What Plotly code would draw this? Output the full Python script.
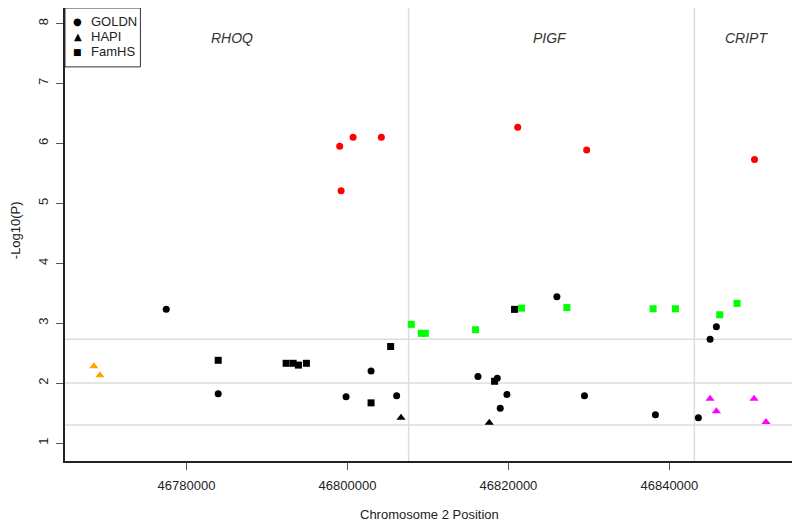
import plotly.graph_objects as go

# ---------------- data ----------------
goldn_black_x = [46777480, 46783936, 46799827, 46802931, 46806109, 46816214, 46818611,
                 46819815, 46818983, 46826023, 46829450, 46838264, 46843602, 46845055, 46845838]
goldn_black_y = [3.23, 1.82, 1.77, 2.20, 1.79, 2.11, 2.08,
                 1.81, 1.58, 3.44, 1.79, 1.47, 1.42, 2.73, 2.94]
goldn_red_x = [46799032, 46799206, 46800696, 46804209, 46821156, 46829722, 46850579]
goldn_red_y = [5.95, 5.21, 6.10, 6.10, 6.27, 5.89, 5.73]

hapi_black_x = [46806655, 46817617]
hapi_black_y = [1.42, 1.34]
hapi_orange_x = [46768491, 46769236]
hapi_orange_y = [2.28, 2.13]
hapi_magenta_x = [46845055, 46845838, 46850517, 46852007]
hapi_magenta_y = [1.74, 1.53, 1.74, 1.35]

famhs_black_x = [46783936, 46792378, 46793247, 46793905, 46794898, 46802931, 46805364,
                 46818276, 46820759]
famhs_black_y = [2.38, 2.33, 2.33, 2.30, 2.33, 1.67, 2.61, 2.03, 3.23]
famhs_green_x = [46807934, 46809175, 46809672, 46815917, 46821628, 46827265, 46837978,
                 46840746, 46846257, 46848405]
famhs_green_y = [2.98, 2.83, 2.83, 2.89, 3.25, 3.26, 3.24, 3.24, 3.14, 3.33]

gene_names = ["RHOQ", "PIGF", "CRIPT"]
gene_label_x = [46785666, 46825191, 46849525]
gene_label_y = 7.76
gene_boundaries = [46807598, 46843105]
threshold_lines = [2.73, 2.0, 1.301]

x_ticks = [46780000, 46800000, 46820000, 46840000]
y_ticks = [1, 2, 3, 4, 5, 6, 7, 8]
legend_names = ["GOLDN", "HAPI", "FamHS"]

FONT = "Liberation Sans, Arial, Helvetica, sans-serif"
TXT = "#222222"

fig = go.Figure()

def add(xs, ys, color, symbol, size):
    fig.add_trace(go.Scatter(x=xs, y=ys, mode="markers", showlegend=False,
                             marker=dict(color=color, symbol=symbol, size=size,
                                         line=dict(width=0)),
                             hoverinfo="x+y"))

add(goldn_black_x, goldn_black_y, "black", "circle", 7)
add(goldn_red_x, goldn_red_y, "#ff0000", "circle", 7)
add(hapi_black_x, hapi_black_y, "black", "triangle-up", 8)
add(hapi_orange_x, hapi_orange_y, "#ffa500", "triangle-up", 8)
add(hapi_magenta_x, hapi_magenta_y, "#ff00ff", "triangle-up", 8)
add(famhs_black_x, famhs_black_y, "black", "square", 7)
add(famhs_green_x, famhs_green_y, "#00ff00", "square", 7)

# reference lines
for yv in threshold_lines:
    fig.add_shape(type="line", xref="paper", x0=0, x1=1, yref="y", y0=yv, y1=yv,
                  line=dict(color="#dddddd", width=1.5), layer="below")
for xv in gene_boundaries:
    fig.add_shape(type="line", yref="paper", y0=0, y1=1, xref="x", x0=xv, x1=xv,
                  line=dict(color="#dddddd", width=1.5), layer="below")

# gene labels
for name, gx in zip(gene_names, gene_label_x):
    fig.add_annotation(x=gx, y=gene_label_y, text="<i>" + name + "</i>", showarrow=False,
                       font=dict(family=FONT, size=14, color="#333333"))

# legend box (manual, R-style)
fig.add_shape(type="rect", xref="paper", yref="paper", x0=0, x1=0.1036, y0=0.870, y1=1,
              line=dict(color="#333333", width=1), fillcolor="white", layer="above")
glyphs = ["●", "▲", "■"]
glyph_sizes = [10, 10, 9]
legend_rows = [0.971, 0.938, 0.9036]
for name, g, gs, ry in zip(legend_names, glyphs, glyph_sizes, legend_rows):
    fig.add_annotation(xref="paper", yref="paper", x=0.0172, y=ry, text=g, showarrow=False,
                       font=dict(family="DejaVu Sans", size=gs, color="black"),
                       xanchor="center", yanchor="middle")
    fig.add_annotation(xref="paper", yref="paper", x=0.0323, y=ry, text=name, showarrow=False,
                       font=dict(family=FONT, size=13, color=TXT),
                       xanchor="left", yanchor="middle")

# axis titles
fig.add_annotation(xref="paper", yref="paper", x=0.5, y=-0.118, text="Chromosome 2 Position",
                   showarrow=False, xanchor="center", yanchor="middle",
                   font=dict(family=FONT, size=13, color=TXT))
fig.add_annotation(xref="paper", yref="paper", x=-0.067, y=0.51, text="-Log10(P)",
                   showarrow=False, xanchor="center", yanchor="middle", textangle=-90,
                   font=dict(family=FONT, size=13, color=TXT))

# the page body adds an 8px offset, so the figure is sized to the remaining window
fig.update_layout(
    width=792, height=518,
    margin=dict(l=56.5, r=7, t=0, b=64.5, autoexpand=False),
    paper_bgcolor="white", plot_bgcolor="white",
    font=dict(family=FONT, size=13, color=TXT),
    showlegend=False,
    xaxis=dict(range=[46764900, 46855360], tickvals=x_ticks,
               ticktext=[str(v) for v in x_ticks],
               showgrid=False, zeroline=False, automargin=False,
               showline=True, mirror=True, linecolor="#222222", linewidth=2,
               ticks="outside", ticklen=7, tickcolor="#555555", tickwidth=1,
               tickfont=dict(family=FONT, size=13, color=TXT),
               ticklabelstandoff=4),
    yaxis=dict(range=[0.70, 8.258], tickvals=y_ticks, showgrid=False, zeroline=False,
               automargin=False,
               showline=True, mirror=True, linecolor="#222222", linewidth=2,
               ticks="outside", ticklen=7, tickcolor="#555555", tickwidth=1,
               tickangle=-90,
               tickfont=dict(family=FONT, size=13, color=TXT),
               ticklabelstandoff=3),
)

fig.write_html("out.html")
